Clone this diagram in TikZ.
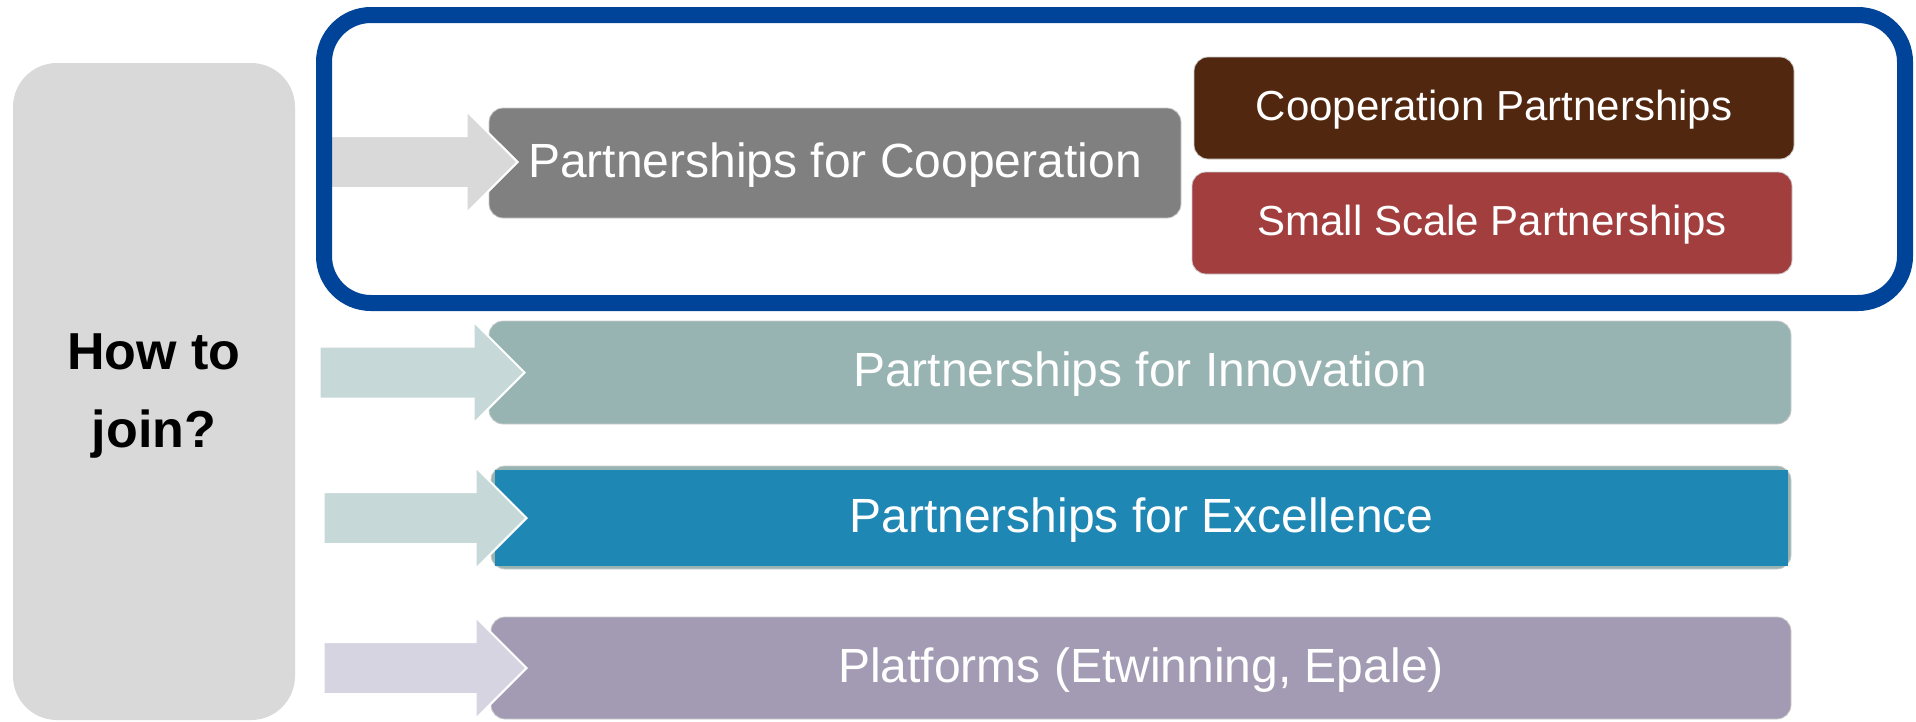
\documentclass[tikz,border=0pt]{standalone}
\usepackage{fontspec}
\setmainfont{Liberation Sans}
\usetikzlibrary{shapes.arrows}
\definecolor{leftgray}{HTML}{D9D9D9}
\definecolor{arrowgray}{HTML}{D9D9D9}
\definecolor{arrowteal}{HTML}{C6D8D8}
\definecolor{arrowlilac}{HTML}{D6D4E0}
\definecolor{coopgray}{HTML}{808080}
\definecolor{coopbrown}{HTML}{52270F}
\definecolor{smallred}{HTML}{A23E3E}
\definecolor{innoteal}{HTML}{97B3B2}
\definecolor{excblue}{HTML}{1F87B4}
\definecolor{platlilac}{HTML}{A39BB3}
\definecolor{frameblue}{HTML}{00449A}
\tikzset{
  boxnode/.style={rectangle, inner sep=0pt, rounded corners=14pt, text=white,
    draw=white!80!black, line width=0.8pt},
  bigtext/.style={font=\fontsize{48}{58}\selectfont, text height=38pt, text depth=10pt},
  smalltext/.style={font=\fontsize{42}{50}\selectfont, text height=34pt, text depth=9pt},
  blockarrow/.style={single arrow, single arrow tip angle=90, single arrow head extend=25pt,
    text height=25pt, text depth=25pt, text width=0pt, inner sep=0pt, draw=white, line width=2pt,
    anchor=tip},
}
\begin{document}
\begin{tikzpicture}[x=1pt,y=-1pt]
\useasboundingbox (0,0) rectangle (1916,721);
% left box
\node[rectangle, fill=leftgray, rounded corners=44pt, minimum width=282pt, minimum height=657pt, inner sep=0pt] (join) at (154,391.5) {};
\node[align=center, font=\bfseries\fontsize{52}{78}\selectfont, inner sep=0pt] (jointext) at (154,396) {How to\\join?};
% boxes
\node[boxnode, bigtext, fill=coopgray, minimum width=692pt, minimum height=110pt] (pcoop) at (835,163) {Partnerships for Cooperation};
\node[boxnode, smalltext, fill=coopbrown, minimum width=600pt, minimum height=102pt] (cp) at (1494,108) {Cooperation Partnerships};
\node[boxnode, smalltext, fill=smallred, minimum width=600pt, minimum height=102pt] (ssp) at (1492,223) {Small Scale Partnerships};
\node[boxnode, bigtext, fill=innoteal, minimum width=1302pt, minimum height=103pt] (pinno) at (1140,372.5) {Partnerships for Innovation};
\node[boxnode, fill=innoteal, minimum width=1300pt, minimum height=103pt] (pexcback) at (1141,517.5) {};
\node[rectangle, inner sep=0pt, bigtext, text=white, fill=excblue, minimum width=1293pt, minimum height=96pt] (pexc) at (1141.5,518) {Partnerships for Excellence};
\node[boxnode, bigtext, fill=platlilac, minimum width=1300pt, minimum height=102pt] (plat) at (1141,668) {Platforms (Etwinning, Epale)};
% arrows
\node[blockarrow, fill=arrowgray, minimum height=198pt] (a1) at (519,162) {};
\node[blockarrow, fill=arrowteal, minimum height=205pt] (a2) at (526,372.5) {};
\node[blockarrow, fill=arrowteal, minimum height=203pt] (a3) at (528,518) {};
\node[blockarrow, fill=arrowlilac, minimum height=203pt] (a4) at (528,668) {};
% frame
\node[rectangle, draw=frameblue, line width=16pt, rounded corners=47pt, minimum width=1581pt, minimum height=288pt, inner sep=0pt, outer sep=0pt] (frame) at (1114.5,159) {};
\end{tikzpicture}
\end{document}
